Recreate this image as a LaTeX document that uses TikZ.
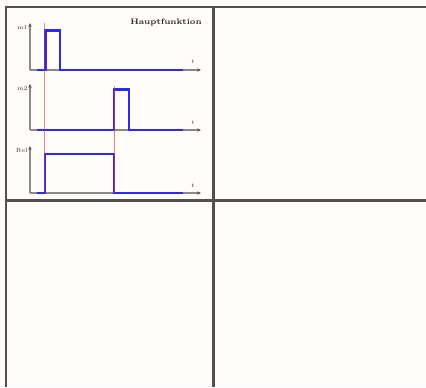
\documentclass[tikz,border=0pt]{standalone}
\usetikzlibrary{arrows.meta}
\definecolor{bg}{HTML}{FFFCF9}
\definecolor{frame}{HTML}{505050}
\definecolor{axis}{HTML}{8A8A8A}
\definecolor{sig}{HTML}{2A2AF0}
\definecolor{mark}{HTML}{E03030}
\tikzset{
  frameline/.style={draw=frame, line width=1.7pt},
  axisline/.style={draw=axis, line width=0.8pt, -{Stealth[length=3pt,width=2.5pt,color=black!70]}},
  signal/.style={draw=sig, line width=1.8pt},
  marker/.style={draw=mark, line width=0.7pt, opacity=0.6},
  lbl/.style={font=\fontsize{4.5}{5}\selectfont, inner sep=0pt, text=black!75},
  title/.style={font=\fontsize{6}{7}\selectfont\bfseries, inner sep=0pt, text=black!85}
}
\begin{document}
\begin{tikzpicture}[x=0.75pt, y=-0.75pt]
\useasboundingbox (0,0) rectangle (426,387);
\fill[bg] (0,0) rectangle (426,387);
% frame
\coordinate (tl) at (6,7);
\coordinate (tr) at (426,7);
\coordinate (bl) at (6,387);
\coordinate (tm) at (213.5,7);
\coordinate (bm) at (213.5,387);
\coordinate (ml) at (6,200.5);
\coordinate (mr) at (426,200.5);
\draw[frameline] (tr) -- (tl) -- (bl);
\draw[frameline] (tm) -- (bm);
\draw[frameline] (ml) -- (mr);
% title
\node[title] (ht) at (166,22) {Hauptfunktion};
% graph 1
\coordinate (o1) at (30,70);
\coordinate (y1) at (30,23);
\coordinate (x1) at (201,70);
\draw[axisline] (o1) -- (y1);
\draw[axisline] (o1) -- (x1);
\node[lbl, anchor=east] (l1) at (28,27) {m1};
\node[lbl] (t1) at (193,62) {t};
% graph 2
\coordinate (o2) at (30,130);
\coordinate (y2) at (30,84);
\coordinate (x2) at (201,130);
\draw[axisline] (o2) -- (y2);
\draw[axisline] (o2) -- (x2);
\node[lbl, anchor=east] (l2) at (28,88) {m2};
\node[lbl] (t2) at (193,123) {t};
% graph 3
\coordinate (o3) at (30,193);
\coordinate (y3) at (30,146);
\coordinate (x3) at (201,193);
\draw[axisline] (o3) -- (y3);
\draw[axisline] (o3) -- (x3);
\node[lbl, anchor=east] (l3) at (28,150) {Rel};
\node[lbl] (t3) at (193,186) {t};
% signals
\draw[signal] (37,70) -- (45.5,70) -- (45.5,30.5) -- (60,30.5) -- (60,70) -- (183,70);
\draw[signal] (37,130) -- (114,130) -- (114,89.5) -- (129,89.5) -- (129,130) -- (183,130);
\draw[signal] (37,193) -- (45,193) -- (45,154) -- (114,154) -- (114,193) -- (183,193);
% markers
\coordinate (m1a) at (44.5,23);
\coordinate (m1b) at (44.5,193);
\coordinate (m2a) at (114,86);
\coordinate (m2b) at (114,193);
\draw[marker] (m1a) -- (m1b);
\draw[marker] (m2a) -- (m2b);
\end{tikzpicture}
\end{document}
